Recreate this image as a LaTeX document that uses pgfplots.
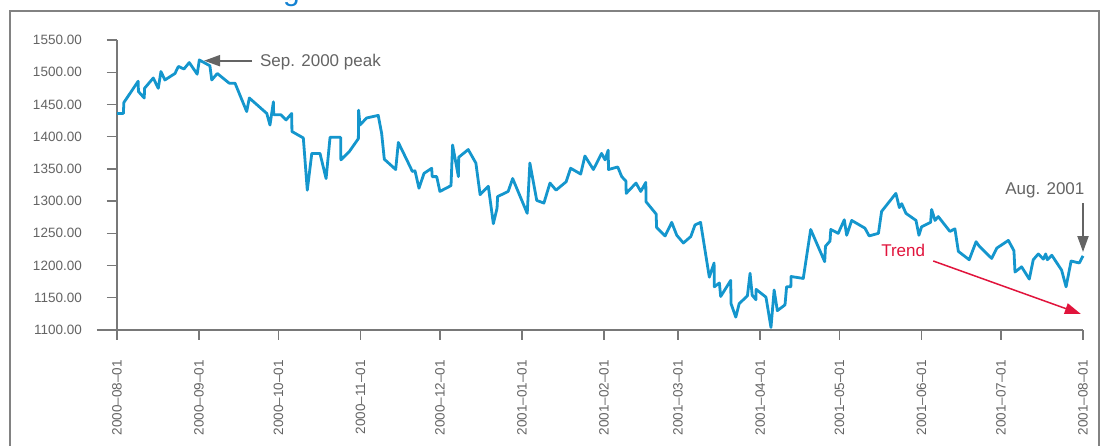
\documentclass[border=0pt]{standalone}
\usepackage{pgfplots}
\pgfplotsset{compat=1.18}
\usepackage{pgfplotstable}
\usepackage{fontspec}
\setmainfont{Liberation Sans}
\usetikzlibrary{arrows.meta}
\definecolor{lineblue}{RGB}{20,150,205}
\definecolor{titleblue}{RGB}{20,130,210}
\definecolor{axisgray}{RGB}{120,120,120}
\definecolor{labelgray}{RGB}{100,100,100}
\definecolor{framegray}{RGB}{130,130,130}
\definecolor{trendred}{RGB}{225,20,60}
\pgfplotstableread{
d v
0 1436
2.4 1436
2.6 1453
8.0 1486
8.1 1470
10.3 1460
10.4 1475
13.7 1491
15.6 1475
16.6 1501
18.1 1488
21.9 1498
23.2 1509
25.3 1505
27.3 1515
30.3 1497
31.1 1519
35.1 1510
35.8 1488
37.9 1498
42.4 1483
44.6 1483
49.0 1439
50.0 1460
56.6 1436
57.8 1418
59.1 1454
59.2 1434
61.9 1434
63.9 1426
66.0 1436
66.1 1408
70.4 1398
71.9 1317
73.6 1374
76.7 1374
79.0 1335
80.5 1399
84.5 1399
84.6 1364
87.8 1377
91.2 1397
91.3 1441
91.8 1418
94.3 1429
98.7 1433
100.0 1405
101.0 1365
105.3 1349
106.3 1391
109.5 1364
111.6 1346
112.6 1347
114.1 1320
116.0 1343
118.9 1351
119.1 1338
120.8 1338
122.0 1315
126.2 1324
126.8 1387
129.0 1338
129.1 1368
132.7 1380
135.6 1359
137.2 1310
140.3 1323
142.2 1265
143.6 1289
143.8 1307
147.8 1315
149.5 1335
155.0 1281
156.0 1359
158.6 1301
161.3 1297
163.6 1328
165.9 1317
169.7 1330
171.4 1351
175.2 1342
176.8 1370
180.0 1349
183.1 1374
184.4 1364
185.6 1379
185.7 1349
189.2 1353
190.7 1338
192.3 1331
192.4 1312
196.1 1328
197.9 1315
199.8 1329
199.9 1299
203.7 1280
203.9 1259
207.1 1246
209.6 1267
211.5 1247
214.0 1235
216.8 1245
218.4 1263
220.5 1267
223.8 1182
225.6 1204
225.7 1167
227.6 1173
228.1 1152
231.9 1177
232.0 1141
233.8 1120
235.1 1141
238.2 1153
239.2 1188
240.0 1154
241.4 1147
241.5 1163
245.2 1151
247.1 1104
248.3 1162
249.5 1130
252.4 1139
253.0 1167
254.6 1167
254.7 1183
259.3 1180
262.1 1256
267.4 1206
267.7 1230
269.4 1238
269.7 1256
272.5 1250
274.8 1271
275.7 1247
277.6 1270
282.6 1258
284.2 1246
287.7 1250
288.9 1284
294.3 1312
295.6 1290
296.5 1296
298.1 1281
301.9 1270
303.0 1247
304.0 1260
307.4 1267
307.8 1287
309.1 1270
310.3 1276
314.7 1253
316.6 1257
317.9 1222
322.0 1209
324.6 1237
325.8 1230
330.5 1211
332.4 1227
336.8 1239
338.9 1223
339.3 1190
341.8 1198
344.7 1179
346.2 1209
348.1 1218
350.0 1210
350.9 1218
351.5 1209
353.2 1216
356.9 1193
358.6 1167
360.5 1207
363.6 1204
365 1215
}\spdata
\begin{document}
\begin{tikzpicture}
\useasboundingbox (0,0) rectangle (1107pt,446pt);
\clip (0,0) rectangle (1107pt,446pt);
\fill[white] (0,0) rectangle (1107pt,446pt);
% frame
\draw[framegray, line width=2pt] (9.7pt,-10pt) -- (9.7pt,435pt) -- (1099pt,435pt) -- (1099pt,-10pt);
% cut-off title
\node[anchor=base west, inner sep=0pt, text=titleblue, font=\fontsize{30}{30}\selectfont] at (283pt,445pt) {g};
\begin{axis}[
  at={(117pt,116pt)}, anchor=south west,
  width=966pt, height=290pt, scale only axis,
  xmin=0, xmax=365, ymin=1100, ymax=1550,
  axis lines=left,
  axis line style={-, draw=axisgray, line width=2.2pt},
  xtick={0,31,61,92,122,153,184,212,243,273,304,334,365},
  xticklabels={2000--08--01,2000--09--01,2000--10--01,2000--11--01,2000--12--01,2001--01--01,2001--02--01,2001--03--01,2001--04--01,2001--05--01,2001--06--01,2001--07--01,2001--08--01},
  ytick={1100,1150,1200,1250,1300,1350,1400,1450,1500,1550},
  yticklabels={1100.00,1150.00,1200.00,1250.00,1300.00,1350.00,1400.00,1450.00,1500.00,1550.00},
  tick align=outside, major tick length=10pt,
  tick style={draw=axisgray, line width=1.4pt},
  tick label style={text=labelgray, font=\fontsize{13.5}{15}\selectfont},
  xticklabel style={yshift=-20pt, rotate=90, anchor=east, inner sep=0pt},
  yticklabel style={xshift=-25pt, anchor=east, inner sep=0pt},
  clip=false,
]
\addplot[lineblue, line width=2.8pt, line join=round] table[x=d, y=v] {\spdata};
% extension of x axis line to the left
\draw[axisgray, line width=2.2pt] (axis cs:-7.6,1100) -- (axis cs:0,1100);
% annotations
\draw[labelgray, line width=2pt, -{Triangle[length=16pt,width=11pt]}] (axis cs:51.1,1517.9) -- (axis cs:32.9,1517.9);
\node[anchor=base west, inner sep=0pt, text=labelgray, font=\fontsize{17}{20}\selectfont] at (axis cs:54.0,1508.6) {Sep. 2000 peak};
\node[anchor=base east, inner sep=0pt, text=labelgray, font=\fontsize{17}{20}\selectfont] at (axis cs:365.6,1309.5) {Aug. 2001};
\draw[labelgray, line width=2pt, -{Triangle[length=16pt,width=11pt]}] (axis cs:365,1297) -- (axis cs:365,1221);
\node[anchor=base west, inner sep=0pt, text=trendred, font=\fontsize{17}{20}\selectfont] at (axis cs:288.7,1213.7) {Trend};
\draw[trendred, line width=1.5pt, -{Triangle[length=16pt,width=11pt]}] (axis cs:308.4,1207.1) -- (axis cs:364.2,1124.8);
\end{axis}
\end{tikzpicture}
\end{document}
